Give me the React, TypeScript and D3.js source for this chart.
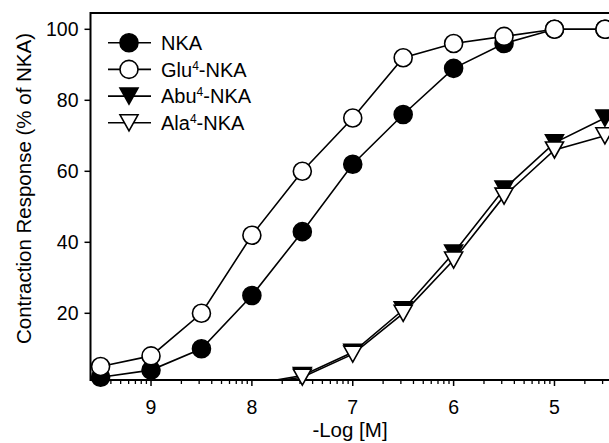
import React from "react";
import * as d3 from "d3";

const doses = [9.5, 9, 8.5, 8, 7.5, 7, 6.5, 6, 5.5, 5, 4.5];
const nka = [2, 4, 10, 25, 43, 62, 76, 89, 96, 100, 100];
const glu = [5, 8, 20, 42, 60, 75, 92, 96, 98, 100, 100];
const abu = [null, null, null, 0, 2.5, 9, 21, 37, 55, 68, 75];
const ala = [null, null, null, 0, 2, 8.5, 20, 35, 53, 66, 70];
const xTicks = [9, 8, 7, 6, 5];
const yTicks = [20, 40, 60, 80, 100];
const seriesNames = ["NKA", "Glu", "Abu", "Ala"];

const W = 609;
const H = 443;
const plotLeft = 90.5;
const plotTop = 13;
const plotBottom = 380;
const FONT = "'Liberation Sans', Arial, Helvetica, sans-serif";

const x = d3.scaleLinear().domain([9.6, 4.4]).range([plotLeft, 615]);
const y = d3.scaleLinear().domain([0, 100]).range([384.3, 29.3]);
const yMin = y.invert(plotBottom);

type Kind = "fc" | "oc" | "ft" | "ot";
const series: { vals: (number | null)[]; kind: Kind }[] = [
  { vals: nka, kind: "fc" },
  { vals: glu, kind: "oc" },
  { vals: abu, kind: "ft" },
  { vals: ala, kind: "ot" },
];

const R = 9;
function Marker({ cx, cy, kind }: { cx: number; cy: number; kind: Kind }) {
  const fill = kind === "fc" || kind === "ft" ? "#000" : "#fff";
  if (kind === "fc" || kind === "oc") {
    return <circle cx={cx} cy={cy} r={R} fill={fill} stroke="#000" strokeWidth={1.6} />;
  }
  const w = 9, h = 8;
  const d = `M${cx - w},${cy - h}L${cx + w},${cy - h}L${cx},${cy + h}Z`;
  return <path d={d} fill={fill} stroke="#000" strokeWidth={1.6} strokeLinejoin="miter" />;
}

const minorTicks: number[] = [];
for (let n = 10; n >= 4; n--) {
  for (let k = 2; k <= 9; k++) {
    const v = n - Math.log10(k);
    if (v <= 9.6 && v >= 4.4) minorTicks.push(v);
  }
}

const sup = (base: string) => (
  <>
    <tspan>{base}</tspan>
    <tspan dy={-7} fontSize={12}>4</tspan>
    <tspan dy={7}>-NKA</tspan>
  </>
);
const legendLabels: React.ReactNode[] = [<tspan>NKA</tspan>, sup("Glu"), sup("Abu"), sup("Ala")];

export default function App() {
  const line = d3
    .line<[number, number]>()
    .x((d) => x(d[0]))
    .y((d) => y(d[1]));

  return (
    <svg
      width={W}
      height={H}
      style={{ position: "absolute", left: 0, top: 0, background: "#fff" }}
      fontFamily={FONT}
    >
      <defs>
        <clipPath id="plotclip">
          <rect x={plotLeft} y={plotTop} width={W - plotLeft} height={plotBottom - plotTop} />
        </clipPath>
      </defs>

      <g clipPath="url(#plotclip)">
        {series.map((s, i) => {
          const pts: [number, number][] = [];
          s.vals.forEach((v, j) => {
            if (v !== null) pts.push([doses[j], v]);
          });
          return <path key={i} d={line(pts) || ""} fill="none" stroke="#000" strokeWidth={1.6} />;
        })}
      </g>

      <line x1={plotLeft} y1={plotTop} x2={W} y2={plotTop} stroke="#000" strokeWidth={2} />
      <line x1={plotLeft} y1={plotTop - 1} x2={plotLeft} y2={plotBottom + 1} stroke="#000" strokeWidth={2} />
      <line x1={plotLeft} y1={plotBottom} x2={W} y2={plotBottom} stroke="#000" strokeWidth={2} />

      {yTicks.map((t) => (
        <g key={t}>
          <line x1={plotLeft - 6} x2={plotLeft} y1={y(t)} y2={y(t)} stroke="#000" strokeWidth={1.5} />
          <text x={plotLeft - 12} y={y(t)} dy="0.36em" textAnchor="end" fontSize={19.5}>
            {t}
          </text>
        </g>
      ))}

      {minorTicks.map((t, i) => (
        <line key={i} x1={x(t)} x2={x(t)} y1={plotBottom} y2={plotBottom + 4} stroke="#000" strokeWidth={1.3} />
      ))}
      {xTicks.map((t) => (
        <g key={t}>
          <line x1={x(t)} x2={x(t)} y1={plotBottom} y2={plotBottom + 6} stroke="#000" strokeWidth={1.5} />
          <text x={x(t)} y={414} textAnchor="middle" fontSize={19.5}>
            {t}
          </text>
        </g>
      ))}

      <text x={350} y={437} textAnchor="middle" fontSize={20.5}>
        -Log [M]
      </text>
      <text transform={`translate(31,188.5) rotate(-90)`} textAnchor="middle" fontSize={20.5}>
        Contraction Response (% of NKA)
      </text>

      {series.map((s, i) => (
        <g key={i}>
          {s.vals.map((v, j) =>
            v !== null && v >= yMin ? (
              <Marker key={j} cx={x(doses[j])} cy={y(v)} kind={s.kind} />
            ) : null
          )}
        </g>
      ))}

      {series.map((s, i) => {
        const ly = 42.7 + i * 26.7;
        return (
          <g key={seriesNames[i]}>
            <line x1={108} x2={151} y1={ly} y2={ly} stroke="#000" strokeWidth={1.6} />
            <Marker cx={129} cy={ly} kind={s.kind} />
            <text x={161} y={ly} dy="0.36em" fontSize={20}>
              {legendLabels[i]}
            </text>
          </g>
        );
      })}
    </svg>
  );
}
